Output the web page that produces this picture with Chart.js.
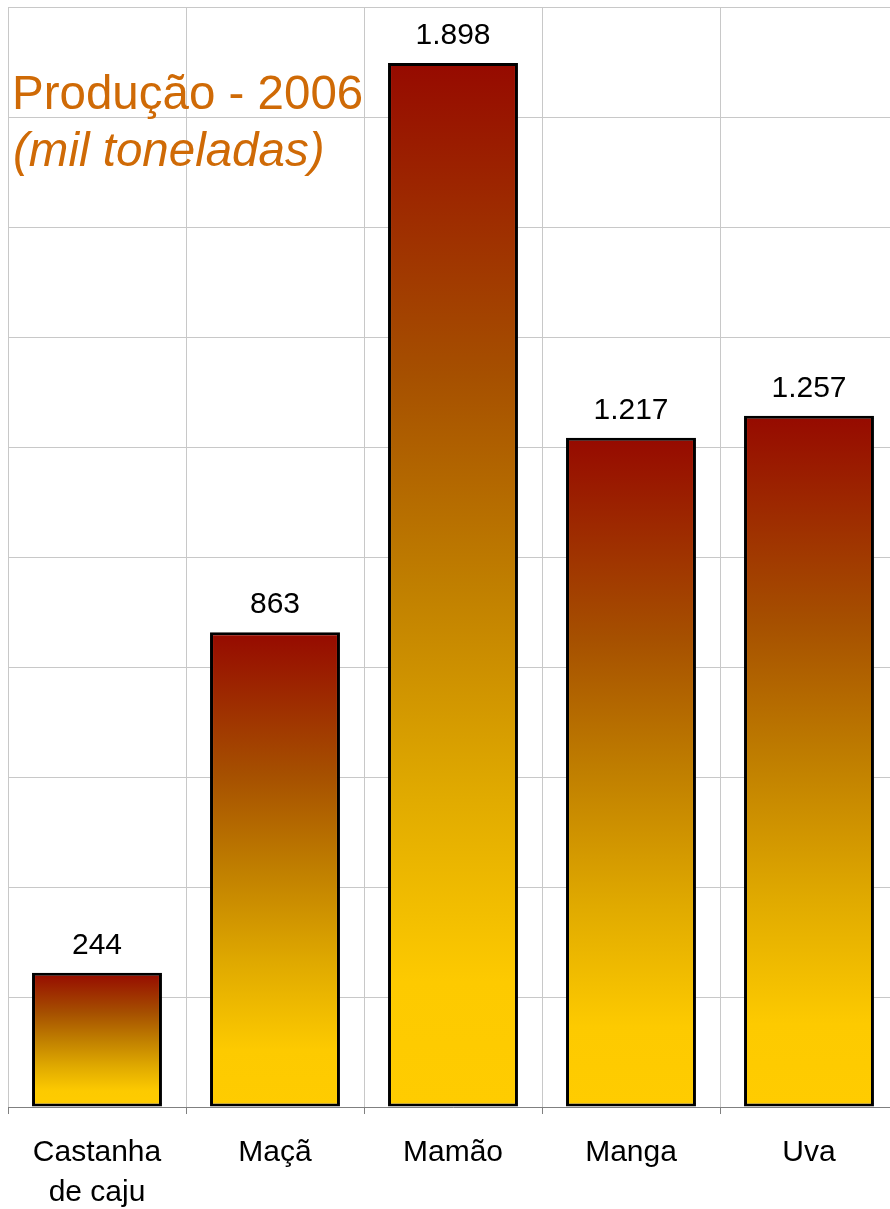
<!DOCTYPE html>
<html>
<head>
<meta charset="utf-8">
<script src="https://cdn.jsdelivr.net/npm/chart.js@4/dist/chart.umd.min.js"></script>
<style>
    html, body { margin: 0; padding: 0; background: #fff; overflow: hidden; }
    #wrap { width: 898px; height: 1238px; position: relative; }
</style>
</head>
<body>
<div id="wrap"><canvas id="graficoProducao"></canvas></div>
<script>
// dados
const categorias = [['Castanha', 'de caju'], 'Maçã', 'Mamão', 'Manga', 'Uva'];
const producao = [244, 863, 1898, 1217, 1257];
const tituloLinhas = ['Produção - 2006', '(mil toneladas)'];

function formataMil(v) {
    return String(v).replace(/\B(?=(\d{3})+(?!\d))/g, '.');
}

// gradiente vertical de cada barra (vermelho em cima, amarelo embaixo)
function gradienteBarra(context) {
    const chart = context.chart;
    const y = chart.scales.y;
    if (!chart.chartArea || !y) return '#FFCC00';
    const topo = y.getPixelForValue(context.raw);
    const base = y.getPixelForValue(0);
    const g = chart.ctx.createLinearGradient(0, topo, 0, base);
    g.addColorStop(0, '#960A00');
    g.addColorStop(0.3, '#A65000');
    g.addColorStop(0.5, '#C07F00');
    g.addColorStop(0.7, '#E0AA00');
    g.addColorStop(0.88, '#FDCA00');
    g.addColorStop(1, '#FFCC00');
    return g;
}

// titulo dentro da area do grafico
const tituloPlugin = {
    id: 'tituloPlugin',
    afterDraw(chart) {
        const c = chart.ctx;
        c.save();
        c.fillStyle = '#CF6A06';
        c.textBaseline = 'alphabetic';
        c.textAlign = 'left';
        c.font = '47.5px "Liberation Sans", Arial, sans-serif';
        c.fillText(tituloLinhas[0], 12, 109);
        c.font = 'italic 47.5px "Liberation Sans", Arial, sans-serif';
        c.fillText(tituloLinhas[1], 13, 166);
        c.restore();
    }
};

// valores em cima das barras
const rotulosPlugin = {
    id: 'rotulosPlugin',
    afterDatasetsDraw(chart) {
        const c = chart.ctx;
        const meta = chart.getDatasetMeta(0);
        c.save();
        c.fillStyle = '#000';
        c.font = '30px "Liberation Sans", Arial, sans-serif';
        c.textAlign = 'center';
        c.textBaseline = 'alphabetic';
        meta.data.forEach((bar, i) => {
            c.fillText(formataMil(producao[i]), bar.x, bar.y - 19);
        });
        c.restore();
    }
};

const ctx = document.getElementById('graficoProducao').getContext('2d');
const grafico = new Chart(ctx, {
    type: 'bar',
    data: {
        labels: categorias,
        datasets: [{
            data: producao,
            backgroundColor: gradienteBarra,
            borderColor: '#000',
            borderWidth: 3,
            borderSkipped: false,
            categoryPercentage: 0.73,
            barPercentage: 1
        }]
    },
    options: {
        responsive: true,
        maintainAspectRatio: false,
        animation: false,
        layout: { padding: { left: 8, top: 7, right: 0, bottom: 6 } },
        plugins: {
            legend: { display: false },
            tooltip: { enabled: false }
        },
        scales: {
            x: {
                grid: {
                    offset: true,
                    color: '#C8C8C8',
                    tickColor: '#808080',
                    tickLength: 7
                },
                border: { color: '#808080', width: 1 },
                ticks: {
                    color: '#000',
                    padding: 19,
                    font: { family: '"Liberation Sans", Arial, sans-serif', size: 30, lineHeight: 1.333 },
                    maxRotation: 0,
                    autoSkip: false
                }
            },
            y: {
                min: 0,
                max: 2000,
                ticks: { display: false, stepSize: 200 },
                grid: { color: '#C8C8C8', drawTicks: false },
                border: { display: false }
            }
        }
    },
    plugins: [tituloPlugin, rotulosPlugin]
});
</script>
</body>
</html>
